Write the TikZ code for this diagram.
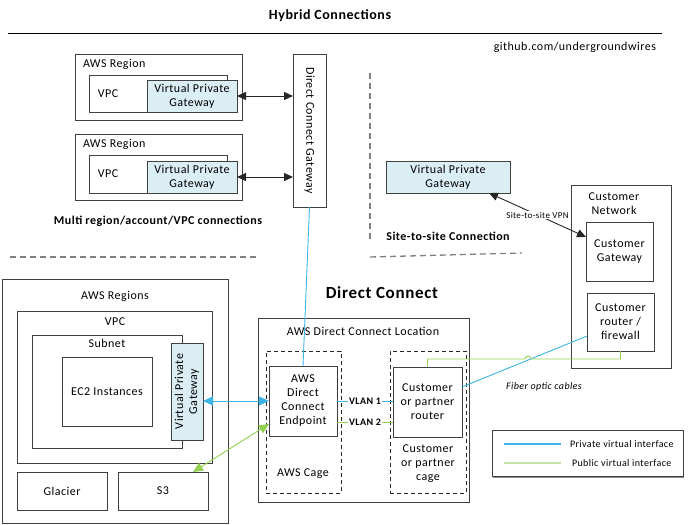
\documentclass[tikz,border=0pt]{standalone}
\usepackage{fontspec}
\setmainfont{Carlito}[LetterSpace=4]
\usetikzlibrary{arrows.meta,fit,calc}
\definecolor{vpgfill}{HTML}{DAEEF3}
\definecolor{privblue}{HTML}{3CB4E6}
\definecolor{pubgreen}{HTML}{92D050}
\definecolor{legendgreen}{HTML}{C4E3A4}
\definecolor{edgec}{HTML}{404040}
\begin{document}
\begin{tikzpicture}[x=1pt,y=-1pt,
  font=\fontsize{12}{14}\selectfont,
  box/.style={draw=edgec, line width=0.9pt, inner sep=0pt, outer sep=0pt, align=center},
  vpgbox/.style={box, fill=vpgfill},
  cagebox/.style={draw=black!85, line width=0.9pt, dash pattern=on 4pt off 3pt, inner sep=0pt, outer sep=0pt},
  sepline/.style={draw=black!50, line width=1.3pt, dash pattern=on 6pt off 4pt},
  blk/.style={draw=black!85, line width=1pt, {Triangle[length=9pt,width=8pt]}-{Triangle[length=9pt,width=8pt]}},
  privline/.style={draw=privblue, line width=0.9pt},
  publine/.style={draw=pubgreen, line width=0.9pt},
  dbl/.style={{Triangle[length=10pt,width=9pt]}-{Triangle[length=10pt,width=9pt]}},
  lbl/.style={inner sep=0pt, outer sep=0pt},
  heading/.style={font=\bfseries\fontsize{12}{14}\selectfont, inner sep=0pt}
]
\useasboundingbox (0,0) rectangle (689,525);

% title
\node[font=\bfseries\fontsize{14}{16}\selectfont] (title) at (330,16) {Hybrid Connections};
\coordinate (tl) at (8,33);
\coordinate (tr) at (662,33);
\draw[draw=black, line width=1pt] (tl) -- (tr);
\node[lbl, anchor=east] (gh) at (656,47) {github.com/undergroundwires};

% upper left: regions
\node[box, fit={(75,54) (242,120)}] (r1) {};
\node[lbl, anchor=west] (r1l) at (83,64) {AWS Region};
\node[box, fit={(89,75) (227,112)}] (vpc1) {};
\node[lbl] (vpc1l) at (108,94) {VPC};
\node[vpgbox, fit={(147,80) (237,112)}] (vpg1) {};
\node[lbl, align=center] (vpg1l) at (vpg1.center) {Virtual Private\\Gateway};

\node[box, fit={(75,134) (242,200)}] (r2) {};
\node[lbl, anchor=west] (r2l) at (83,144) {AWS Region};
\node[box, fit={(89,155) (227,193)}] (vpc2) {};
\node[lbl] (vpc2l) at (108,174) {VPC};
\node[vpgbox, fit={(147,161) (237,193)}] (vpg2) {};
\node[lbl, align=center] (vpg2l) at (vpg2.center) {Virtual Private\\Gateway};

\node[box, fit={(293,54) (326,207)}] (dcg) {};
\node[lbl, rotate=-90] (dcgl) at (dcg.center) {Direct Connect Gateway};

\draw[blk] (vpg1.east) -- (vpg1.east -| dcg.west);
\draw[blk] (vpg2.east) -- (vpg2.east -| dcg.west);

\node[heading] (multi) at (158,221) {Multi region/account/VPC connections};

% separators
\coordinate (s1a) at (10,257);
\coordinate (s1b) at (258,257);
\draw[sepline] (s1a) -- (s1b);
\coordinate (s2a) at (370,73);
\coordinate (s2b) at (370,242);
\draw[sepline] (s2a) -- (s2b);
\coordinate (s3a) at (370,257);
\coordinate (s3b) at (522,253);
\draw[sepline] (s3a) -- (s3b);

% site-to-site
\node[vpgbox, fit={(386,161) (510,193)}] (vpg3) {};
\node[lbl, align=center] (vpg3l) at (vpg3.center) {Virtual Private\\Gateway};
\node[heading] (s2s) at (448,236) {Site-to-site Connection};

\node[box, fit={(571,185) (671,368)}] (cn) {};
\node[lbl, align=center] (cnl) at (614,204) {Customer\\Network};
\node[box, fit={(586,222) (653,281)}] (cg) {};
\node[lbl, align=center] (cgl) at (cg.center) {Customer\\Gateway};
\node[box, fit={(587,293) (654,351)}] (crf) {};
\node[lbl, align=center] (crfl) at (crf.center) {Customer\\router /\\firewall};

\coordinate (vpnA) at ($(vpg3.south east)+(-21,0)$);
\coordinate (vpnB) at ($(cg.north west)+(0,15)$);
\draw[blk, line width=0.9pt] (vpnA) -- node[midway, fill=white, inner sep=1pt, font=\fontsize{9}{11}\selectfont] (vpnl) {Site-to-site VPN} (vpnB);

% Direct Connect
\node[font=\bfseries\fontsize{17}{20}\selectfont] (dctitle) at (382,293) {Direct Connect};

\node[box, fit={(2,279) (228,523)}] (ar) {};
\node[lbl] (arl) at (115,296) {AWS Regions};
\node[box, fit={(17,311) (212,463)}] (vpc) {};
\node[lbl] (vpcl) at (115,322) {VPC};
\node[box, fit={(32,335) (182,448)}] (sub) {};
\node[lbl] (subl) at (107,343) {Subnet};
\node[box, fit={(62,357) (152,426)}] (ec2) {};
\node[lbl] (ec2l) at (ec2.center) {EC2 Instances};
\node[vpgbox, fit={(171,343) (203,440)}] (vpg4) {};
\node[lbl, rotate=90, align=center] (vpg4l) at (vpg4.center) {Virtual Private\\Gateway};
\node[box, fit={(17,472) (107,510)}] (gl) {};
\node[lbl] (gll) at (gl.center) {Glacier};
\node[box, fit={(118,472) (208,510)}] (s3) {};
\node[lbl] (s3l) at (s3.center) {S3};

\node[box, fit={(258,318) (469,502)}] (dcl) {};
\node[lbl] (dcll) at (363,331) {AWS Direct Connect Location};
\node[cagebox, fit={(266,351) (341,493)}] (cage1) {};
\node[lbl] (cage1l) at (303,474) {AWS Cage};
\node[box, fit={(269,366) (337,436)}] (ep) {};
\node[lbl, align=center] (epl) at (ep.center) {AWS\\Direct\\Connect\\Endpoint};
\node[cagebox, fit={(390,351) (466,493)}] (cage2) {};
\node[lbl, align=center] (cage2l) at (428,464) {Customer\\or partner\\cage};
\node[box, fit={(393,367) (462,437)}] (rt) {};
\node[lbl, align=center] (rtl) at (rt.center) {Customer\\or partner\\router};

% private connectors
\draw[privline] (dcg.south) -- (ep.north);
\draw[privline, dbl] (vpg4.east |- ep.west) -- (ep.west);
\draw[privline] (ep.east) -- node[midway, fill=white, inner sep=1pt, font=\bfseries\fontsize{10}{12}\selectfont] (v1) {VLAN 1} (ep.east -| rt.west);
\coordinate (rtB) at ($(rt.east)+(0,-15)$);
\coordinate (crfB) at ($(crf.west)+(0,14)$);
\draw[privline] (rtB) -- (crfB);

% public connectors
\coordinate (s3g) at ($(s3.north east)+(-15,0)$);
\coordinate (epg) at ($(ep.west)+(0,23)$);
\draw[publine, dbl] (s3g) -- (epg);
\coordinate (ep2) at ($(ep.east)+(0,21)$);
\draw[publine] (ep2) -- node[midway, fill=white, inner sep=1pt, font=\bfseries\fontsize{10}{12}\selectfont] (v2) {VLAN 2} (ep2 -| rt.west);
\draw[publine] (rt.north) -- ++(0,-8) coordinate (g1) -- (525,359) arc[start angle=180, end angle=0, radius=3pt] -- (g1 -| crf.south) -- (crf.south);

\node[font=\itshape\fontsize{10}{12}\selectfont] (fiber) at (544,387) {Fiber optic cables};

% legend
\node[fill=black!45, minimum width=191pt, minimum height=46pt, inner sep=0pt] (lgsh) at (588.5,455) {};
\node[box, fill=white, fit={(492,430) (683,476)}] (lg) {};
\coordinate (lb1) at (504,444);
\coordinate (lb2) at (561,444);
\draw[draw=privblue, line width=1.3pt] (lb1) -- (lb2);
\node[lbl, anchor=west, font=\fontsize{10}{12}\selectfont] (lbt) at (570,444) {Private virtual interface};
\coordinate (lg1) at (504,463);
\coordinate (lg2) at (561,463);
\draw[draw=legendgreen, line width=2pt] (lg1) -- (lg2);
\node[lbl, anchor=west, font=\fontsize{10}{12}\selectfont] (lgt) at (572,463) {Public virtual interface};
\end{tikzpicture}
\end{document}
